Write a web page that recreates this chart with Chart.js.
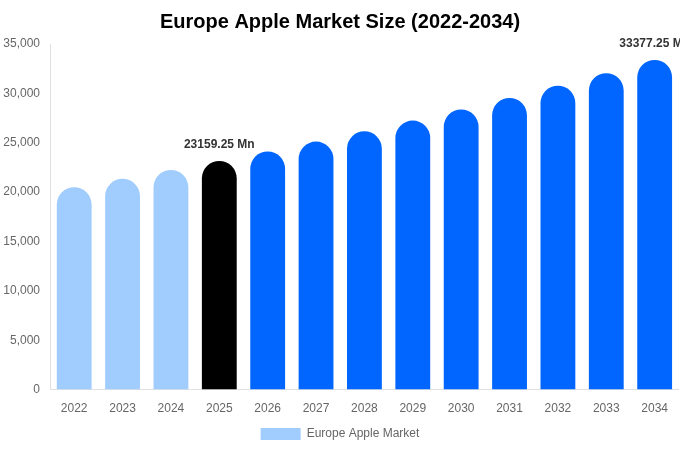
<!DOCTYPE html>
<html>
<head>
<meta charset="utf-8">
<script src="https://cdn.jsdelivr.net/npm/chart.js@4"></script>
<style>
  html, body { margin: 0; padding: 0; background: #fff; }
  #wrap { width: 680px; height: 450px; }
</style>
</head>
<body>
<div id="wrap"><canvas id="marketChart"></canvas></div>
<script>
const years = ["2022", "2023", "2024", "2025", "2026", "2027", "2028", "2029", "2030", "2031", "2032", "2033", "2034"];
const marketSize = [20500, 21350, 22240, 23159.25, 24120, 25120, 26160, 27240, 28370, 29540, 30770, 32040, 33377.25];
const yTicks = [0, 5000, 10000, 15000, 20000, 25000, 30000, 35000];
const labelledYears = ["2025", "2034"];

const barColor = (year) => {
  if (year === "2025") return "#000000";
  if (Number(year) < 2025) return "#a0cdfd";
  return "#0066ff";
};

// writes the value above the highlighted bars
const valueLabels = {
  id: "valueLabels",
  afterDatasetsDraw(chart) {
    const { ctx } = chart;
    const meta = chart.getDatasetMeta(0);
    ctx.save();
    ctx.font = "bold 12px 'Liberation Sans', Arial, sans-serif";
    ctx.fillStyle = "#333333";
    ctx.textAlign = "center";
    ctx.textBaseline = "bottom";
    meta.data.forEach((bar, i) => {
      if (!labelledYears.includes(years[i])) return;
      ctx.fillText(marketSize[i] + " Mn", bar.x, bar.y - 10);
    });
    ctx.restore();
  },
};

new Chart(document.getElementById("marketChart"), {
  type: "bar",
  data: {
    labels: years,
    datasets: [
      {
        label: "Europe Apple Market",
        data: marketSize,
        backgroundColor: years.map(barColor),
        borderRadius: 18,
        borderSkipped: "bottom",
        barPercentage: 0.72,
        categoryPercentage: 1,
      },
    ],
  },
  options: {
    responsive: true,
    maintainAspectRatio: false,
    animation: false,
    layout: { padding: { left: 0, right: 0, top: 0, bottom: 0 } },
    scales: {
      x: {
        grid: { display: false, drawTicks: false },
        border: { color: "#e0e0e0" },
        afterFit: (scale) => {
          scale.height -= 6;
        },
        ticks: {
          color: "#666",
          padding: 12,
          font: { family: "'Liberation Sans', Arial, sans-serif", size: 12 },
        },
      },
      y: {
        min: 0,
        max: 35000,
        afterBuildTicks: (axis) => {
          axis.ticks = yTicks.map((v) => ({ value: v }));
        },
        afterFit: (scale) => {
          scale.width = 50;
        },
        grid: { display: false, drawTicks: false },
        border: { color: "#e0e0e0" },
        ticks: {
          color: "#666",
          padding: 10,
          font: { family: "'Liberation Sans', Arial, sans-serif", size: 12 },
          callback: (v) => v.toLocaleString("en-US"),
        },
      },
    },
    plugins: {
      title: {
        display: true,
        text: "Europe Apple Market Size (2022-2034)",
        color: "#000",
        font: { family: "'Liberation Sans', Arial, sans-serif", size: 20, weight: "bold" },
        padding: { top: 10, bottom: 10 },
      },
      legend: {
        position: "bottom",
        labels: {
          color: "#666",
          boxWidth: 40,
          boxHeight: 12,
          padding: 6,
          font: { family: "'Liberation Sans', Arial, sans-serif", size: 12 },
          generateLabels: () => [
            {
              text: "Europe Apple Market",
              fillStyle: "#a0cdfd",
              strokeStyle: "#a0cdfd",
              lineWidth: 0,
              fontColor: "#666",
            },
          ],
        },
      },
      tooltip: { enabled: true },
    },
  },
  plugins: [valueLabels],
});
</script>
</body>
</html>
